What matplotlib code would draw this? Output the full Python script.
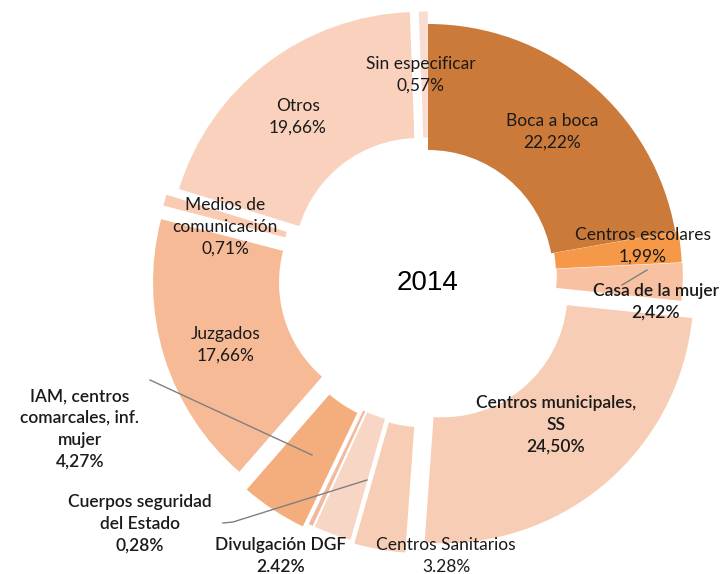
import numpy as np
import matplotlib.pyplot as plt

# canales de acceso, 2014 (sentido horario desde las 12)
categorias = ['Boca a boca', 'Centros escolares', 'Casa de la mujer',
              'Centros municipales,\nSS', 'Centros Sanitarios', 'Divulgación DGF',
              'Cuerpos seguridad\ndel Estado', 'IAM, centros\ncomarcales, inf.\nmujer',
              'Juzgados', 'Medios de\ncomunicación', 'Otros', 'Sin especificar']
porcentajes = [22.22, 1.99, 2.42, 24.50, 3.28, 2.42, 0.28, 4.27, 17.66, 0.71, 19.66, 0.57]
separador = [',', ',', ',', ',', '.', '.', ',', ',', ',', ',', ',', ',']
colores = ['#CB7A3A', '#F59848', '#F8C1A2', '#F8CDB5', '#F8CDB5', '#F8D6C6',
           '#F3B99C', '#F4AE7D', '#F6BA96', '#F8CBB2', '#F9D1BC', '#FADBD0']
# desplazamiento de cada porcion, en fraccion del radio
separacion = [0.0, 0.012, 0.015, 0.09, 0.11, 0.10, 0.10, 0.12, 0.10, 0.09, 0.06, 0.05]

# posicion de las etiquetas (px) y grosor
pos_etq = [(552, 132), (643, 246), (656, 302), (556, 425), (446, 556), (281, 556),
           (140, 524), (80, 429), (226, 345), (225, 227), (298, 117), (421, 75)]
negrita = [False, False, True, True, False, True, True, True, False, False, False, False]

W, H = 725, 574
cx, cy = 428, 275
R, r = 251, 125

fig = plt.figure(figsize=(W / 100, H / 100), dpi=100)
ax = fig.add_axes([0, 0, 1, 1])

ax.pie(porcentajes, colors=colores, explode=[s * R for s in separacion],
       startangle=90, counterclock=False, radius=R, center=(cx, H - cy),
       wedgeprops=dict(width=R - r, linewidth=0))
ax.set_xlim(0, W)
ax.set_ylim(0, H)
ax.set_aspect('equal')
ax.axis('off')

for cat, v, sep, (x, y), b in zip(categorias, porcentajes, separador, pos_etq, negrita):
    txt = cat + '\n' + f'{v:.2f}'.replace('.', sep) + '%'
    ax.text(x, H - y, txt, ha='center', va='center', fontsize=12.5,
            family='Lato', fontweight='semibold' if b else 'normal',
            linespacing=1.45, color='#1a1a1a')

# lineas guia
guias = [[(150, 380), (312, 455)],
         [(223, 523), (233, 522), (367, 480)],
         [(622, 285), (647, 270)]]
for g in guias:
    xs = [p[0] for p in g]
    ys = [H - p[1] for p in g]
    ax.plot(xs, ys, color='#7f7f7f', lw=1)

ax.text(cx, H - 283, '2014', ha='center', va='center', fontsize=20,
        family='Liberation Sans')

fig.savefig('out.png', dpi=100)
